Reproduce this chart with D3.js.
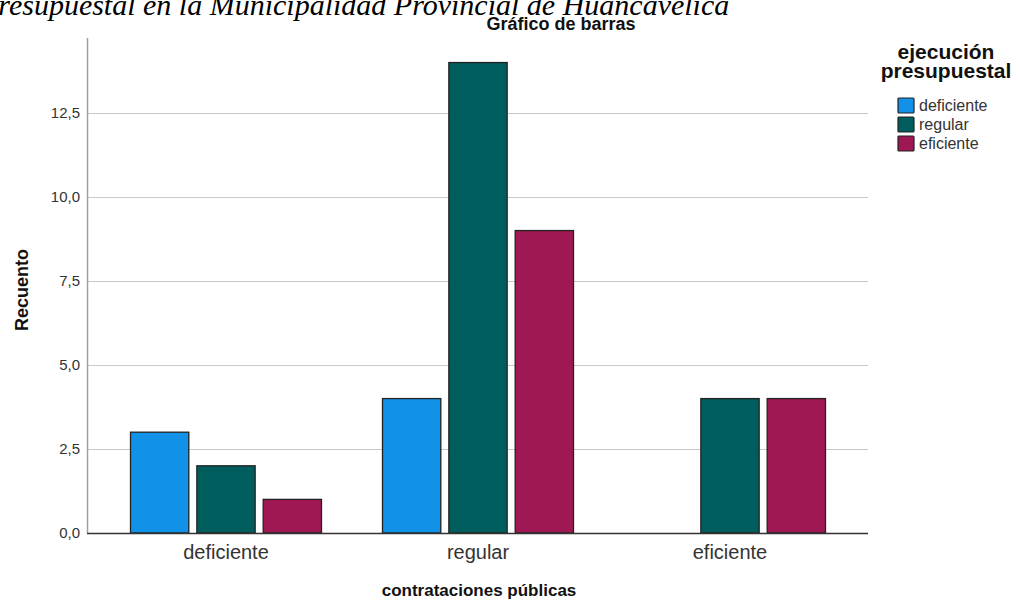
<!DOCTYPE html>
<html><head><meta charset="utf-8">
<script src="https://cdn.jsdelivr.net/npm/d3@7"></script>
<style>body{margin:0;background:#fff}</style>
</head><body>
<svg id="c" width="1021" height="603"></svg>
<script>
const categories = ["deficiente", "regular", "eficiente"];
const seriesNames = ["deficiente", "regular", "eficiente"];
const seriesColors = ["#1192e8", "#005d5d", "#9f1853"];
const valDeficiente = [3, 4, 0];
const valRegular = [2, 14, 4];
const valEficiente = [1, 9, 4];
const yTicks = [0, 2.5, 5, 7.5, 10, 12.5];
const seriesValues = [valDeficiente, valRegular, valEficiente];

const svg = d3.select("#c");
const plot = {left: 87, right: 868, top: 38, bottom: 533};
const y = d3.scaleLinear().domain([0, 14.73]).range([plot.bottom, plot.top]);
const x0 = d3.scaleBand().domain(categories).range([100, 856]).padding(0);
const groupW = 192;
const x1 = d3.scaleBand().domain(seriesNames).range([0, groupW]).paddingInner(7/66).paddingOuter(0);
const sans = "Liberation Sans, Arial, sans-serif";

// top cut-off caption
svg.append("text").attr("x", -20).attr("y", 15)
  .attr("font-family", "Liberation Serif").attr("font-style", "italic").attr("font-size", 30)
  .attr("fill", "#000").text("Presupuestal en la Municipalidad Provincial de Huancavelica");

// title
svg.append("text").attr("x", 561).attr("y", 30).attr("text-anchor", "middle")
  .attr("font-family", sans).attr("font-weight", "bold").attr("font-size", 18)
  .attr("fill", "#111").text("Gráfico de barras");

// gridlines
svg.append("g").selectAll("line").data(yTicks.filter(d => d > 0)).join("line")
  .attr("x1", plot.left).attr("x2", plot.right)
  .attr("y1", d => Math.round(y(d)) + 0.5).attr("y2", d => Math.round(y(d)) + 0.5)
  .attr("stroke", "#c8c8c8").attr("stroke-width", 1.2);

// y axis
const yAxis = d3.axisLeft(y).tickValues(yTicks).tickSize(0).tickPadding(7)
  .tickFormat(d => d3.format(".1f")(d).replace(".", ","));
const gy = svg.append("g").attr("transform", `translate(${plot.left},0)`).call(yAxis);
gy.select(".domain").remove();
gy.selectAll("text").attr("font-family", sans).attr("font-size", 15).attr("fill", "#333");
svg.append("line").attr("x1", plot.left + 0.5).attr("x2", plot.left + 0.5)
  .attr("y1", plot.top).attr("y2", plot.bottom).attr("stroke", "#a0a0a0").attr("stroke-width", 1.5);

// bars
const groups = svg.append("g").selectAll("g").data(categories).join("g")
  .attr("transform", d => `translate(${x0(d) + (x0.bandwidth() - groupW) / 2},0)`);
groups.selectAll("rect").data((c, i) => seriesNames.map((s, j) => ({s, j, v: seriesValues[j][i]})).filter(d => d.v > 0))
  .join("rect")
  .attr("x", d => x1(d.s) + 0.5).attr("width", x1.bandwidth() - 1)
  .attr("y", d => y(d.v)).attr("height", d => y(0) - y(d.v))
  .attr("fill", d => seriesColors[d.j]).attr("stroke", "#222").attr("stroke-width", 1.3);

// x axis
const xAxis = d3.axisBottom(x0).tickSize(0).tickPadding(12);
const gx = svg.append("g").attr("transform", `translate(0,${plot.bottom})`).call(xAxis);
gx.select(".domain").remove();
gx.selectAll("text").attr("font-family", sans).attr("font-size", 20).attr("fill", "#333");
svg.append("line").attr("x1", plot.left).attr("x2", plot.right)
  .attr("y1", plot.bottom + 0.5).attr("y2", plot.bottom + 0.5).attr("stroke", "#333").attr("stroke-width", 1.3);

// axis titles
svg.append("text").attr("x", 479).attr("y", 596).attr("text-anchor", "middle")
  .attr("font-family", sans).attr("font-weight", "bold").attr("font-size", 17)
  .attr("fill", "#111").text("contrataciones públicas");
svg.append("text").attr("transform", "translate(28,290) rotate(-90)").attr("text-anchor", "middle")
  .attr("font-family", sans).attr("font-weight", "bold").attr("font-size", 18)
  .attr("fill", "#111").text("Recuento");

// legend
const lg = svg.append("g");
lg.append("text").attr("x", 946).attr("y", 59).attr("text-anchor", "middle")
  .attr("font-family", sans).attr("font-weight", "bold").attr("font-size", 21)
  .attr("fill", "#111").text("ejecución");
lg.append("text").attr("x", 946).attr("y", 78).attr("text-anchor", "middle")
  .attr("font-family", sans).attr("font-weight", "bold").attr("font-size", 21)
  .attr("fill", "#111").text("presupuestal");
const items = lg.selectAll("g.it").data(seriesNames).join("g").attr("class", "it")
  .attr("transform", (d, i) => `translate(898,${98 + i * 19})`);
items.append("rect").attr("width", 16).attr("height", 15).attr("rx", 1)
  .attr("fill", (d, i) => seriesColors[i]).attr("stroke", "#222").attr("stroke-width", 1.2);
items.append("text").attr("x", 21).attr("y", 13).attr("font-family", sans)
  .attr("font-size", 16).attr("fill", "#333").text(d => d);
</script>
</body></html>
